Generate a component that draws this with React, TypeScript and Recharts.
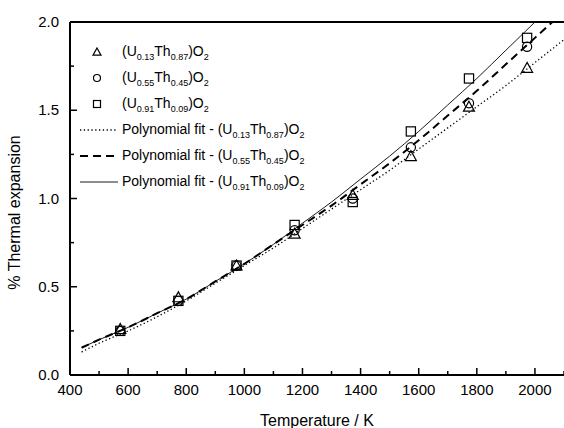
import React from "react";
import {
  ComposedChart,
  Line,
  Scatter,
  XAxis,
  YAxis,
  Legend,
  ReferenceLine,
} from "recharts";

// measured points (K, % expansion)
const tempPts = [573, 773, 973, 1173, 1373, 1573, 1773, 1973];
const u13 = [0.26, 0.44, 0.62, 0.8, 1.02, 1.24, 1.52, 1.74];
const u55 = [0.25, 0.42, 0.62, 0.82, 1.0, 1.29, 1.54, 1.86];
const u91 = [0.25, 0.42, 0.62, 0.85, 0.98, 1.38, 1.68, 1.91];

// polynomial fit curves
const fitTemps = [440, 500, 600, 700, 800, 900, 1000, 1100, 1200, 1300, 1400, 1500, 1600, 1700, 1800, 1900, 2000, 2100];
const fit13 = [0.13, 0.18, 0.25, 0.33, 0.42, 0.52, 0.62, 0.72, 0.83, 0.94, 1.05, 1.16, 1.28, 1.4, 1.52, 1.64, 1.77, 1.9];
const fit55 = [0.155, 0.2, 0.27, 0.35, 0.43, 0.53, 0.63, 0.74, 0.85, 0.96, 1.08, 1.2, 1.33, 1.47, 1.61, 1.76, 1.91, 2.06];
const fit91 = [0.155, 0.2, 0.27, 0.35, 0.43, 0.53, 0.63, 0.74, 0.86, 0.98, 1.11, 1.24, 1.38, 1.53, 1.68, 1.84, 2.0, 2.17];

const xTicks = [400, 500, 600, 700, 800, 900, 1000, 1100, 1200, 1300, 1400, 1500, 1600, 1700, 1800, 1900, 2000, 2100];
const xLabels = [400, 600, 800, 1000, 1200, 1400, 1600, 1800, 2000];
const yTicks = [0, 0.25, 0.5, 0.75, 1.0, 1.25, 1.5, 1.75, 2.0];
const yLabels = [0, 0.5, 1.0, 1.5, 2.0];

const compositions = [
  ["0.13", "0.87"],
  ["0.55", "0.45"],
  ["0.91", "0.09"],
];

const FONT = "'Liberation Sans', Arial, sans-serif";

const fitData = fitTemps.map((t, i) => ({ t, f13: fit13[i], f55: fit55[i], f91: fit91[i] }));
const pts = (vals: number[]) => tempPts.map((t, i) => ({ t, v: vals[i] }));

const Triangle = ({ cx, cy, s = 5.5 }: any) => (
  <path
    d={`M${cx},${cy - s} L${cx + s},${cy + s * 0.8} L${cx - s},${cy + s * 0.8} Z`}
    fill="none"
    stroke="#000"
    strokeWidth={1.2}
  />
);
const Circle = ({ cx, cy, s = 4.6 }: any) => (
  <circle cx={cx} cy={cy} r={s} fill="none" stroke="#000" strokeWidth={1.2} />
);
const Square = ({ cx, cy, s = 4.6 }: any) => (
  <rect x={cx - s} y={cy - s} width={s * 2} height={s * 2} fill="none" stroke="#000" strokeWidth={1.2} />
);

function XTick({ x, y, payload }: any) {
  const major = xLabels.includes(payload.value);
  return (
    <g>
      <line x1={x} y1={y} x2={x} y2={y - (major ? 7 : 4)} stroke="#000" strokeWidth={1.5} />
      {major && (
        <text x={x} y={y + 20} textAnchor="middle" fontSize={15} fontFamily={FONT} fill="#000">
          {payload.value}
        </text>
      )}
    </g>
  );
}

function YTick({ x, y, payload }: any) {
  const major = yLabels.includes(payload.value);
  return (
    <g>
      <line x1={x} y1={y} x2={x + (major ? 7 : 4)} y2={y} stroke="#000" strokeWidth={1.5} />
      {major && (
        <text x={x - 11} y={y + 5} textAnchor="end" fontSize={15} fontFamily={FONT} fill="#000">
          {payload.value.toFixed(1)}
        </text>
      )}
    </g>
  );
}

const sub = (s: string) => (
  <span style={{ fontSize: 9, position: "relative", top: 4 }}>{s}</span>
);

const Formula = ({ c }: { c: string[] }) => (
  <span>
    (U{sub(c[0])}Th{sub(c[1])})O{sub("2")}
  </span>
);

function LegendBox() {
  const rows = [
    { sym: "tri", label: <Formula c={compositions[0]} /> },
    { sym: "circ", label: <Formula c={compositions[1]} /> },
    { sym: "sq", label: <Formula c={compositions[2]} /> },
    { sym: "dot", label: <>Polynomial fit - <Formula c={compositions[0]} /></> },
    { sym: "dash", label: <>Polynomial fit - <Formula c={compositions[1]} /></> },
    { sym: "solid", label: <>Polynomial fit - <Formula c={compositions[2]} /></> },
  ];
  return (
    <div style={{ fontFamily: FONT, fontSize: 14, color: "#000" }}>
      {rows.map((r, i) => (
        <div key={i} style={{ display: "flex", alignItems: "center", height: 26 }}>
          <svg width={44} height={26} style={{ flex: "none" }}>
            {r.sym === "tri" && <Triangle cx={19} cy={13} s={4} />}
            {r.sym === "circ" && <Circle cx={19} cy={13} s={3.5} />}
            {r.sym === "sq" && <Square cx={19} cy={13} s={3.5} />}
            {r.sym === "dot" && (
              <line x1={2} y1={13} x2={40} y2={13} stroke="#000" strokeWidth={1.3} strokeDasharray="1.3 2.5" />
            )}
            {r.sym === "dash" && (
              <line x1={2} y1={13} x2={40} y2={13} stroke="#000" strokeWidth={2} strokeDasharray="8 5" />
            )}
            {r.sym === "solid" && <line x1={2} y1={13} x2={40} y2={13} stroke="#000" strokeWidth={0.9} />}
          </svg>
          <span style={{ whiteSpace: "nowrap", lineHeight: "26px" }}>{r.label}</span>
        </div>
      ))}
    </div>
  );
}

export default function App() {
  return (
    <div style={{ position: "absolute", left: 0, top: 0, width: 564, height: 428, background: "#fff" }}>
      <ComposedChart width={564} height={428} margin={{ top: 22, right: 0, left: 0, bottom: 0 }}>
        <XAxis
          type="number"
          dataKey="t"
          domain={[400, 2100]}
          ticks={xTicks}
          allowDataOverflow
          interval={0}
          tickSize={0}
          tickMargin={0}
          tick={<XTick />}
          height={53}
          axisLine={{ stroke: "#000", strokeWidth: 2 }}
          label={{
            content: ({ viewBox }: any) => (
              <text
                x={viewBox.x + viewBox.width / 2}
                y={viewBox.y + 51}
                textAnchor="middle"
                fontSize={16}
                fontFamily={FONT}
                fill="#000"
              >
                Temperature / K
              </text>
            ),
          }}
        />
        <YAxis
          type="number"
          domain={[0, 2]}
          ticks={yTicks}
          allowDataOverflow
          interval={0}
          tickSize={0}
          tickMargin={0}
          tick={<YTick />}
          width={70}
          axisLine={{ stroke: "#000", strokeWidth: 2 }}
          label={{
            content: ({ viewBox }: any) => {
              const cx = 16;
              const cy = viewBox.y + viewBox.height / 2 + 14;
              return (
                <text
                  x={cx}
                  y={cy}
                  transform={`rotate(-90 ${cx} ${cy})`}
                  textAnchor="middle"
                  dominantBaseline="middle"
                  fontSize={16}
                  fontFamily={FONT}
                  fill="#000"
                >
                  % Thermal expansion
                </text>
              );
            },
          }}
        />
        <ReferenceLine y={2} stroke="#000" strokeWidth={2} />
        <Legend
          layout="vertical"
          align="center"
          verticalAlign="middle"
          content={() => <LegendBox />}
          wrapperStyle={{ left: 78, top: 39, width: 260 }}
        />
        <Line
          data={fitData}
          dataKey="f13"
          type="monotone"
          stroke="#000"
          strokeWidth={1.3}
          strokeDasharray="1.3 2.5"
          dot={false}
          isAnimationActive={false}
          legendType="none"
        />
        <Line
          data={fitData}
          dataKey="f55"
          type="monotone"
          stroke="#000"
          strokeWidth={2}
          strokeDasharray="8 5"
          dot={false}
          isAnimationActive={false}
          legendType="none"
        />
        <Line
          data={fitData}
          dataKey="f91"
          type="monotone"
          stroke="#000"
          strokeWidth={0.9}
          dot={false}
          isAnimationActive={false}
          legendType="none"
        />
        <Scatter data={pts(u13)} dataKey="v" shape={<Triangle />} isAnimationActive={false} />
        <Scatter data={pts(u55)} dataKey="v" shape={<Circle />} isAnimationActive={false} />
        <Scatter data={pts(u91)} dataKey="v" shape={<Square />} isAnimationActive={false} />
      </ComposedChart>
    </div>
  );
}
